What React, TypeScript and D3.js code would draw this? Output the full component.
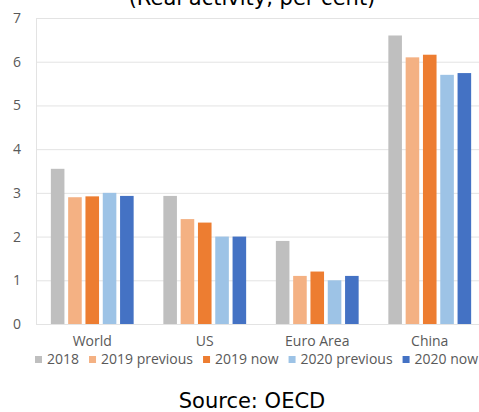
import React, { useEffect, useRef } from 'react';
import * as d3 from 'd3';

const regions = ['World', 'US', 'Euro Area', 'China'];
const seriesNames = ['2018', '2019 previous', '2019 now', '2020 previous', '2020 now'];
const seriesColors = ['#bfbfbf', '#f4b183', '#ed7d31', '#9dc3e6', '#4472c4'];
const growth2018 = [3.55, 2.93, 1.9, 6.6];
const growth2019Prev = [2.9, 2.4, 1.1, 6.1];
const growth2019Now = [2.92, 2.32, 1.2, 6.16];
const growth2020Prev = [3.0, 2.0, 1.0, 5.7];
const growth2020Now = [2.93, 2.0, 1.1, 5.74];
const yTicks = [0, 1, 2, 3, 4, 5, 6, 7];

const seriesValues = [growth2018, growth2019Prev, growth2019Now, growth2020Prev, growth2020Now];

export default function App() {
  const ref = useRef(null);
  const width = 479;
  const height = 412;
  const margin = { top: 18, right: -7, bottom: 88, left: 36 };

  useEffect(() => {
    const svg = d3.select(ref.current);
    svg.selectAll('*').remove();

    const x0 = d3.scaleBand()
      .domain(regions)
      .range([margin.left, width - margin.right])
      .paddingInner(0.264)
      .paddingOuter(0.132);

    const x1 = d3.scaleBand()
      .domain(seriesNames)
      .range([0, x0.bandwidth()])
      .paddingInner(0.215)
      .paddingOuter(0);

    const y = d3.scaleLinear()
      .domain([0, 7])
      .range([height - margin.bottom, margin.top]);

    const grid = svg.append('g');
    grid.selectAll('line')
      .data(yTicks)
      .enter().append('line')
      .attr('x1', margin.left)
      .attr('x2', width)
      .attr('y1', d => y(d) + 0.5)
      .attr('y2', d => y(d) + 0.5)
      .attr('stroke', '#e3e3e3')
      .attr('stroke-width', 1);

    svg.append('line')
      .attr('x1', margin.left + 0.5)
      .attr('x2', margin.left + 0.5)
      .attr('y1', y(7))
      .attr('y2', y(0) + 1)
      .attr('stroke', '#e3e3e3');

    svg.append('g')
      .selectAll('text')
      .data(yTicks)
      .enter().append('text')
      .attr('x', 21)
      .attr('y', d => y(d))
      .attr('dy', '0.36em')
      .attr('text-anchor', 'end')
      .attr('font-family', 'Open Sans')
      .attr('font-size', 14)
      .attr('fill', '#595959')
      .text(d => d);

    const groups = svg.append('g')
      .selectAll('g')
      .data(regions)
      .enter().append('g')
      .attr('transform', d => `translate(${x0(d)},0)`);

    groups.selectAll('rect')
      .data((d, i) => seriesNames.map((s, j) => ({ s, j, v: seriesValues[j][i] })))
      .enter().append('rect')
      .attr('x', d => x1(d.s))
      .attr('width', x1.bandwidth())
      .attr('y', d => y(d.v))
      .attr('height', d => y(0) - y(d.v))
      .attr('fill', d => seriesColors[d.j]);

    svg.append('g')
      .selectAll('text')
      .data(regions)
      .enter().append('text')
      .attr('x', d => x0(d) + x0.bandwidth() / 2)
      .attr('y', 346)
      .attr('text-anchor', 'middle')
      .attr('font-family', 'Open Sans')
      .attr('font-size', 14)
      .attr('fill', '#595959')
      .text(d => d);

    // legend, laid out from measured text widths
    const legend = svg.append('g');
    let lx = 35;
    seriesNames.forEach((name, i) => {
      legend.append('rect')
        .attr('x', lx)
        .attr('y', 356)
        .attr('width', 7)
        .attr('height', 7)
        .attr('fill', seriesColors[i]);
      const t = legend.append('text')
        .attr('x', lx + 12)
        .attr('y', 363.5)
        .attr('font-family', 'Open Sans')
        .attr('font-size', 14)
        .attr('fill', '#595959')
        .text(name);
      const w = (t.node() as SVGTextElement).getComputedTextLength();
      lx += 12 + w + 10;
    });

    svg.append('text')
      .attr('x', 252)
      .attr('y', 5)
      .attr('text-anchor', 'middle')
      .attr('font-family', 'DejaVu Sans')
      .attr('font-size', 21)
      .attr('fill', '#000')
      .text('(Real activity, per cent)');

    svg.append('text')
      .attr('x', 252)
      .attr('y', 408)
      .attr('text-anchor', 'middle')
      .attr('font-family', 'DejaVu Sans')
      .attr('font-size', 21)
      .attr('fill', '#000')
      .text('Source: OECD');
  }, []);

  return (
    <svg
      ref={ref}
      width={width}
      height={height}
      style={{ position: 'absolute', left: 0, top: 0, background: '#fff' }}
    ></svg>
  );
}
